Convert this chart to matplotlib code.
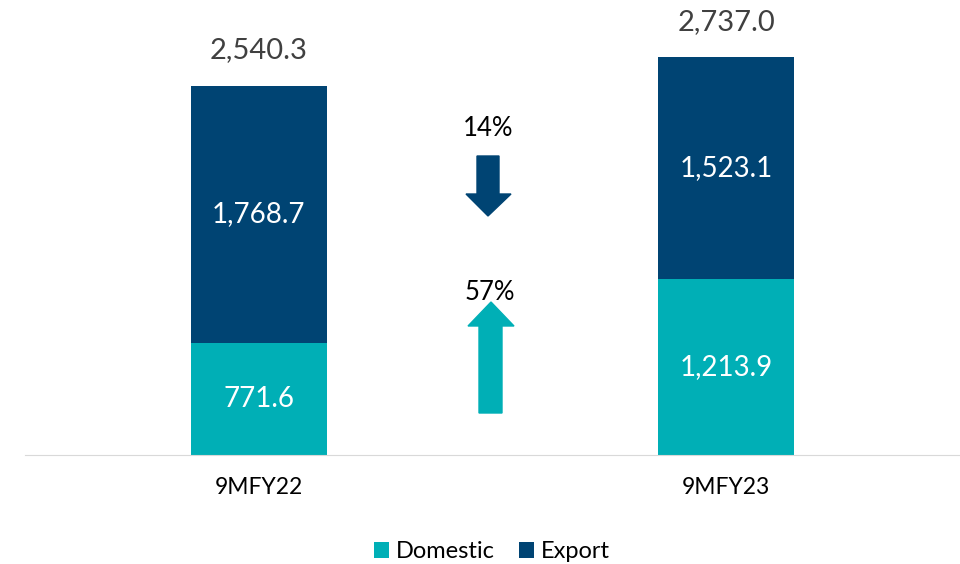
import matplotlib
matplotlib.use("Agg")
import matplotlib.pyplot as plt
from matplotlib.patches import Polygon

categories = ["9MFY22", "9MFY23"]
domestic = [771.6, 1213.9]
export = [1768.7, 1523.1]
totals = [2540.3, 2737.0]
export_change = "14%"
domestic_change = "57%"

TEAL = "#00AFB6"
NAVY = "#004473"
W, H = 960, 564

plt.rcParams['font.family'] = ['Lato', 'DejaVu Sans']

fig = plt.figure(figsize=(W / 100, H / 100), dpi=100)
ax = fig.add_axes([25 / W, 109 / H, 935 / W, 436 / H])

x = range(len(categories))
ax.bar(x, domestic, width=0.29, color=TEAL, label="Domestic")
ax.bar(x, export, width=0.29, bottom=domestic, color=NAVY, label="Export")

for i in x:
    ax.text(i, domestic[i] / 2, f"{domestic[i]:,.1f}", ha="center", va="center",
            color="white", fontsize=20)
    ax.text(i, domestic[i] + export[i] / 2, f"{export[i]:,.1f}", ha="center",
            va="center", color="white", fontsize=20)
    ax.text(i, totals[i] + 245, f"{totals[i]:,.1f}", ha="center", va="center",
            color="#404040", fontsize=21)

ax.set_xlim(-0.5, 1.5)
ax.set_ylim(0, 3000)
ax.set_yticks([])
ax.set_xticks(list(x))
ax.set_xticklabels(categories, fontsize=16.5)
ax.tick_params(axis="x", length=0, pad=16)
for s in ["top", "right", "left"]:
    ax.spines[s].set_visible(False)
ax.spines["bottom"].set_color("#D9D9D9")


def px(pts):
    # pixel coords (from top-left) -> figure fraction
    return [(a / W, 1 - b / H) for a, b in pts]


down = [(477, 156), (499, 156), (499, 194), (511, 194), (488, 216),
        (466, 194), (477, 194)]
up = [(479, 413), (502, 413), (502, 326), (514, 326), (491, 302),
      (468, 326), (479, 326)]
fig.patches.append(Polygon(px(down), closed=True, color=NAVY,
                           transform=fig.transFigure, figure=fig))
fig.patches.append(Polygon(px(up), closed=True, color=TEAL,
                           transform=fig.transFigure, figure=fig))
fig.text(488 / W, 1 - 129 / H, export_change, ha="center", va="center",
         fontsize=18.5, color="black")
fig.text(490 / W, 1 - 293 / H, domestic_change, ha="center", va="center",
         fontsize=18.5, color="black")

fig.legend(loc="center", bbox_to_anchor=(492 / W, 1 - 552 / H), ncol=2,
           frameon=False, fontsize=17, handlelength=0.65, handleheight=0.65,
           handletextpad=0.3, columnspacing=1.0)

fig.savefig("out.png", dpi=100)
